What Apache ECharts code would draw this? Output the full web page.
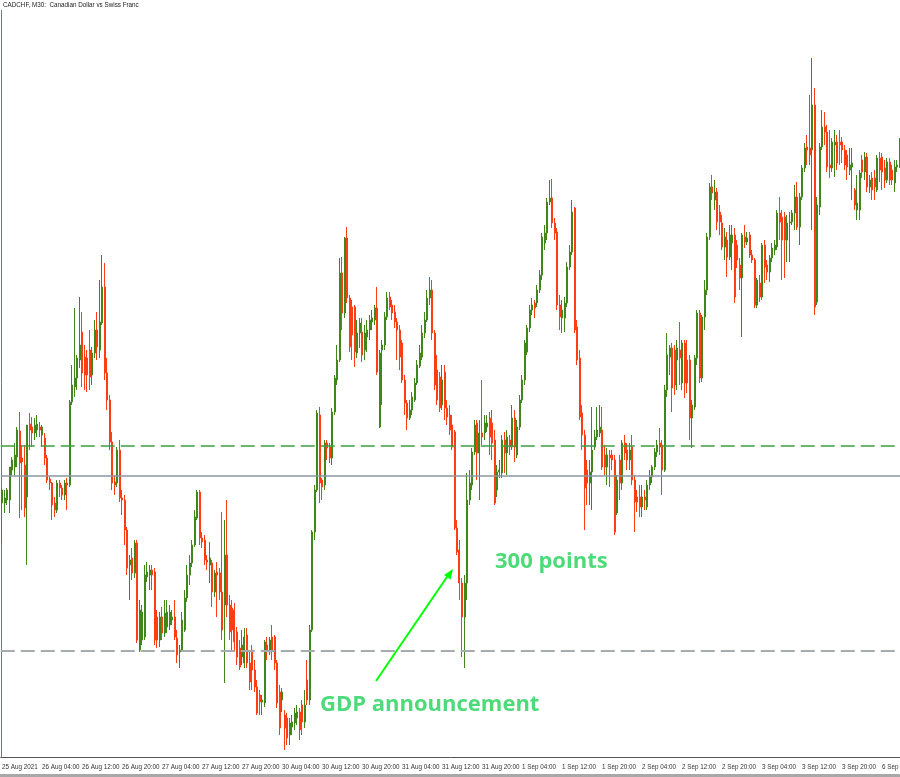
<!DOCTYPE html>
<html><head><meta charset="utf-8">
<script src="https://cdn.jsdelivr.net/npm/echarts@6/dist/echarts.min.js"></script>
<style>html,body{margin:0;padding:0;background:#fff}#c{width:900px;height:777px}</style>
</head><body><div id="c"></div>
<script>
// CADCHF M30, values in points above 0.72000
const tickLabels = ['25 Aug 2021','26 Aug 04:00','26 Aug 12:00','26 Aug 20:00','27 Aug 04:00','27 Aug 12:00','27 Aug 20:00','30 Aug 04:00','30 Aug 12:00','30 Aug 20:00','31 Aug 04:00','31 Aug 12:00','31 Aug 20:00','1 Sep 04:00','1 Sep 12:00','1 Sep 20:00','2 Sep 04:00','2 Sep 12:00','2 Sep 20:00','3 Sep 04:00','3 Sep 12:00','3 Sep 20:00','6 Sep 04:00'];
const barsPerLabel = 16;

const open = [
497,497,500,500,530,533,543,569,542,535,
503,576,573,567,570,573,565,562,542,521,
517,497,490,517,512,505,517,515,598,613,
622,640,668,643,642,650,625,647,670,650,
677,713,627,600,558,518,517,550,502,500,
470,435,442,427,457,350,360,363,423,425,
430,428,383,360,383,367,373,375,380,383,
362,348,350,370,402,425,437,455,482,508,
462,460,440,435,437,408,428,427,408,395,
445,395,392,390,368,352,343,337,365,337,
350,330,313,305,298,297,355,348,363,363,
337,308,300,285,282,265,273,277,282,288,
295,278,320,300,370,468,510,585,520,515,
557,553,542,588,620,640,727,687,762,702,
693,693,647,667,668,650,663,670,678,680,
692,573,650,655,683,703,695,688,678,670,
657,620,597,582,590,600,617,634,643,667,
680,702,710,667,630,623,595,628,592,585,
575,568,472,450,417,383,417,500,515,548,
577,547,567,567,573,582,577,560,510,528,
527,560,547,560,553,582,545,573,600,620,
648,672,690,697,697,710,725,757,767,798,
802,777,768,695,682,682,697,733,748,792,
673,642,587,565,530,517,528,553,563,567,
570,545,533,545,545,540,487,540,517,557,
550,540,553,520,503,503,493,503,493,515,
523,533,548,557,555,530,610,643,652,650,
640,650,617,657,640,640,582,593,642,687,
622,683,710,763,813,800,808,788,777,753,
760,743,757,765,755,735,722,763,758,765,
745,740,695,717,703,755,735,728,742,750,
753,787,783,783,760,777,778,787,803,773,
803,832,853,852,850,895,698,793,853,873,
868,835,832,855,858,858,858,850,845,830,
833,810,790,790,840,828,843,813,822,822,
810,842,843,832,820,838,830,817,833,835];

const close = [
510,502,510,533,540,545,570,537,538,492,
575,570,567,575,576,570,573,542,520,517,
495,490,517,512,505,517,515,598,615,622,
642,655,627,625,625,623,647,670,653,678,
713,627,600,558,517,515,550,502,500,470,
432,440,427,457,360,390,388,425,428,430,
425,360,360,383,367,387,388,388,383,363,
345,350,380,402,425,437,455,483,508,462,
458,440,438,442,408,427,425,408,370,445,
395,368,370,358,343,333,355,363,337,318,
330,313,287,298,300,358,350,360,350,337,
297,272,308,272,262,277,278,287,288,270,
278,295,300,370,468,510,587,517,513,557,
552,542,588,622,640,727,687,762,702,653,
665,648,667,677,645,667,670,680,682,692,
628,647,655,683,702,693,687,678,670,643,
620,597,582,590,603,617,635,647,667,680,
702,710,667,615,600,592,620,592,583,570,
553,472,448,417,383,417,500,517,548,575,
547,567,563,577,577,563,557,497,528,530,
560,547,563,553,582,553,573,600,620,657,
672,690,695,692,710,725,763,767,798,802,
777,767,695,683,690,697,733,748,788,670,
640,583,565,512,517,528,550,563,570,573,
533,533,545,542,540,468,520,517,557,547,
540,550,520,498,498,493,503,500,515,523,
533,548,555,553,530,610,645,652,612,615,
652,642,657,617,617,582,595,642,687,622,
683,710,763,813,807,808,778,778,753,763,
743,765,765,703,740,722,765,758,762,745,
740,695,720,703,755,733,728,742,752,755,
787,778,760,760,777,778,787,803,773,803,
832,852,850,845,895,693,795,853,873,868,
833,832,858,858,837,855,850,835,833,835,
837,795,797,827,828,843,813,820,810,813,
842,830,828,820,838,820,820,833,835,840];

const low = [
457,487,495,487,525,525,533,482,490,483,
435,550,553,560,563,563,553,535,517,510,
480,483,487,503,500,500,490,513,595,603,
610,632,613,610,608,610,615,642,640,642,
675,620,590,550,510,505,513,498,485,455,
425,400,420,422,357,348,355,360,418,410,
410,355,352,353,360,363,367,370,375,360,
337,332,348,368,398,415,433,453,480,455,
452,435,430,417,393,403,383,400,360,317,
383,360,350,348,335,330,335,332,332,310,
310,308,285,285,285,293,340,345,340,330,
292,265,288,250,255,255,265,270,275,260,
265,272,295,295,368,460,508,497,500,510,
540,537,535,585,615,638,670,682,697,648,
640,633,642,652,638,640,648,660,670,675,
625,572,595,650,680,690,680,672,640,630,
617,585,570,580,585,598,615,632,640,662,
678,695,660,610,595,588,590,580,575,565,
550,470,445,400,343,332,400,495,510,545,
520,500,555,560,568,545,540,495,503,522,
522,527,525,545,550,538,542,570,597,615,
645,668,685,682,693,707,720,750,760,795,
772,760,690,670,667,668,693,730,745,667,
635,580,550,470,495,495,490,550,560,563,
530,525,515,513,530,465,485,500,510,540,
530,530,515,468,488,483,483,490,490,510,
517,530,543,545,505,528,603,625,588,605,
610,615,610,602,607,560,552,590,635,617,
618,670,705,760,800,790,770,765,750,740,
723,740,730,697,732,710,663,752,755,742,
737,692,692,698,700,717,720,718,738,745,
750,760,720,722,738,738,775,770,770,755,
800,828,835,835,770,685,695,785,850,855,
828,822,828,823,830,835,837,830,820,825,
800,790,780,780,822,820,808,807,800,800,
808,818,810,812,817,815,815,808,828,832];

const high = [
512,510,512,533,543,557,573,588,555,555,
575,587,583,582,585,578,575,567,545,523,
518,503,520,520,515,520,522,600,635,692,
645,703,688,655,650,670,653,680,688,720,
745,737,642,605,568,525,553,560,510,505,
473,445,452,460,460,400,395,435,438,435,
435,432,390,388,393,400,400,395,390,400,
370,355,388,410,435,445,460,490,510,510,
468,465,445,458,440,430,438,432,488,480,
500,405,400,397,373,360,370,372,372,350,
355,340,320,310,305,360,363,363,375,365,
340,315,312,290,287,282,285,292,295,292,
300,310,340,375,470,515,590,593,522,560,
560,557,592,625,655,742,743,763,773,705,
700,695,680,682,682,675,680,685,690,695,
713,650,660,688,708,708,700,695,682,675,
660,625,600,600,608,622,640,655,675,688,
710,723,720,670,645,628,635,635,600,595,
585,570,480,460,422,425,527,530,552,580,
580,580,620,585,585,588,590,570,535,540,
565,568,570,565,595,590,580,605,625,660,
675,695,702,700,715,730,767,775,802,820,
821,782,772,705,700,703,738,755,800,793,
680,650,595,570,540,540,593,570,593,595,
593,555,552,550,550,545,525,545,560,565,
557,557,565,525,510,515,515,510,520,530,
535,552,560,572,560,615,667,655,657,655,
660,678,660,660,660,645,600,645,690,690,
685,720,767,817,825,820,812,795,785,772,
768,775,775,772,760,742,767,775,768,768,
750,742,722,725,757,760,740,745,757,760,
790,803,790,788,785,788,790,815,818,807,
835,857,865,905,942,912,803,857,890,888,
875,870,862,870,865,870,863,855,850,852,
852,812,825,830,845,848,847,825,828,830,
845,848,847,840,842,842,835,840,840,862];

const levels = { upperDashed: 554, middle: 524, lowerDashed: 349 };

const BULL = '#41861a', BEAR = '#ff3c12';
const cats = open.map((_, i) => String(i));
const ohlc = open.map((o, i) => [o, close[i], low[i], high[i]]);
const smallFont = "'Liberation Sans', Arial, sans-serif";

const chart = echarts.init(document.getElementById('c'), null, {renderer: 'canvas'});
chart.setOption({
  animation: false,
  backgroundColor: '#ffffff',
  grid: {left: 0.75, top: 0, width: 900, height: 757, outerBoundsMode: 'none', containLabel: false},
  xAxis: {
    type: 'category', data: cats, boundaryGap: true,
    axisLine: {lineStyle: {color: '#555', width: 1}},
    axisTick: {interval: barsPerLabel - 1, alignWithLabel: true, length: 5, lineStyle: {color: '#555'}},
    axisLabel: {
      interval: barsPerLabel - 1, align: 'left', margin: 7, fontSize: 6.3,
      fontFamily: smallFont, color: '#333', showMinLabel: true, hideOverlap: false,
      formatter: (v, idx) => tickLabels[Math.round(idx / barsPerLabel)] || ''
    },
    splitLine: {show: false}
  },
  yAxis: {type: 'value', min: 243, max: 1000, show: false, splitLine: {show: false}},
  series: [{
    type: 'candlestick', data: ohlc, barWidth: 1.5,
    itemStyle: {color: BULL, color0: BEAR, borderColor: BULL, borderColor0: BEAR, borderWidth: 1},
    markLine: {
      silent: true, symbol: 'none', label: {show: false}, animation: false,
      data: [
        {yAxis: levels.upperDashed, lineStyle: {color: '#3e9e3e', type: [14, 6], width: 1.5}},
        {yAxis: levels.middle, lineStyle: {color: '#8796a3', type: 'solid', width: 1.5}},
        {yAxis: levels.lowerDashed, lineStyle: {color: '#a4acb0', type: [14, 6], width: 2}}
      ]
    }
  }],
  graphic: [
    {type: 'line', shape: {x1: 1.5, y1: 10, x2: 1.5, y2: 757}, style: {stroke: '#6d7b80', lineWidth: 1}},
    {type: 'text', left: 3, top: 2.5, style: {text: 'CADCHF, M30:  Canadian Dollar vs Swiss Franc', fontSize: 6.3, fontFamily: smallFont, fill: '#222'}},
    {type: 'rect', shape: {x: 0, y: 774, width: 900, height: 3}, style: {fill: '#a8a8a8'}},
    {type: 'text', left: 495, top: 551, style: {text: '300 points', fontSize: 22, fontWeight: 'bold', fontFamily: 'Open Sans', fill: '#4ddb7a'}},
    {type: 'text', left: 320, top: 694, style: {text: 'GDP announcement', fontSize: 22, fontWeight: 'bold', fontFamily: 'Open Sans', fill: '#4ddb7a'}},
    {type: 'line', shape: {x1: 376, y1: 681, x2: 449, y2: 574}, style: {stroke: '#00ff00', lineWidth: 2}},
    {type: 'polygon', shape: {points: [[453, 569], [450.6, 579.5], [444, 575]]}, style: {fill: '#00ff00'}}
  ]
});
</script></body></html>
